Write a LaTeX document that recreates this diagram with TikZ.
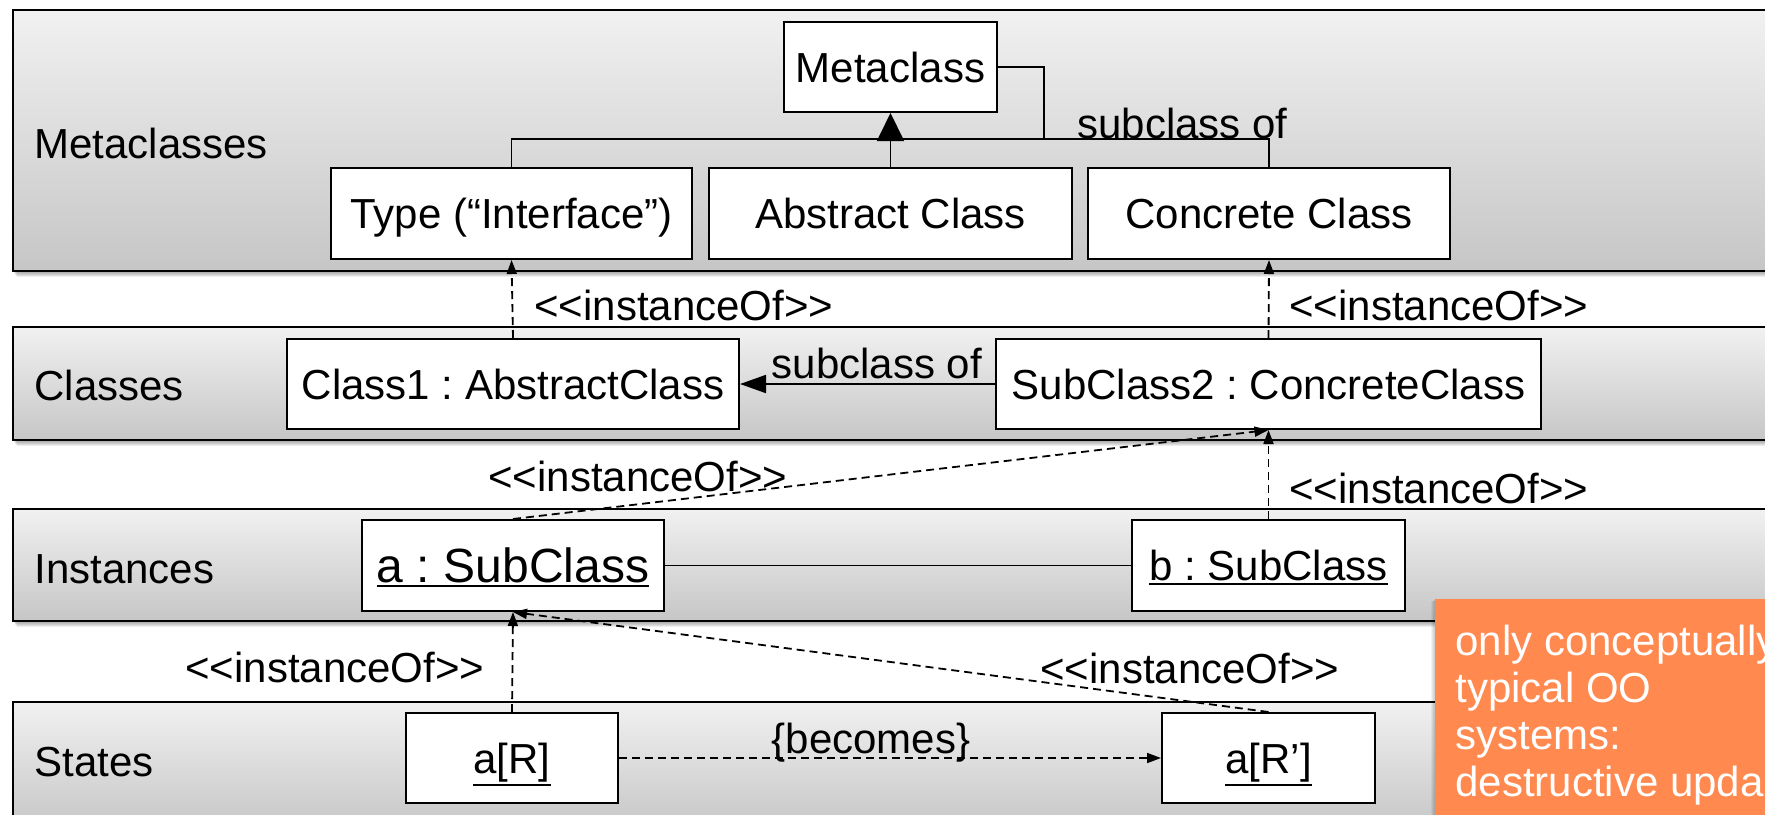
\documentclass[tikz,border=0pt]{standalone}
\usepackage{fontspec}
\setmainfont{Liberation Sans}[Ligatures=TeXOff]
\usetikzlibrary{arrows.meta}
\definecolor{bandtop}{HTML}{F1F1F1}
\definecolor{bandbot}{HTML}{C6C6C6}
\definecolor{notefill}{RGB}{255,137,79}
\frenchspacing
% thick underline for object names
\newcommand\objname[1]{\leavevmode\vtop{\hbox{#1}\kern1pt\hrule height 1.25pt}}
% soft shadow under a layer band
\newcommand\bandshadow[2]{%
  \foreach \k in {1,...,6}{\fill[black,opacity=0.07] (13+\k*0.6,#1+\k) rectangle (1800,#2+\k);}}
\begin{document}
\begin{tikzpicture}[x=0.5pt,y=-0.5pt,
  every node/.style={font=\fontsize{21}{25}\selectfont},
  umlbox/.style={draw=black,fill=white,line width=1pt,inner sep=0pt,text height=15pt,text depth=0pt},
  band/.style={draw=black,line width=1.2pt,top color=bandtop,bottom color=bandbot},
  conn/.style={draw=black,line width=0.9pt},
  inst/.style={conn,dash pattern=on 4pt off 2.5pt,-{Triangle[length=7pt,width=5pt]}},
  lbl/.style={inner sep=0pt,anchor=base west}]
\useasboundingbox (0,0) rectangle (1765,814);
\clip (0,0) rectangle (1765,814);

% layer bands
\bandshadow{10}{271}
\path[band] (13,10) rectangle (1800,271);
\bandshadow{327}{440}
\path[band] (13,327) rectangle (1800,440);
\bandshadow{509}{621}
\path[band] (13,509) rectangle (1800,621);
\bandshadow{702}{830}
\path[band] (13,702) rectangle (1800,830);

% band titles
\node[lbl] (tmeta) at (34,158) {Metaclasses};
\node[lbl] (tclass) at (34,400) {Classes};
\node[lbl] (tinst) at (34,583) {Instances};
\node[lbl] (tstate) at (34,776) {States};

% metaclass layer
\node[umlbox,minimum width=106.5pt,minimum height=45pt] (meta) at (890.5,67) {Metaclass};
\node[umlbox,minimum width=180.5pt,minimum height=45.5pt] (type) at (511.5,213.5) {Type (“Interface”)};
\node[umlbox,minimum width=181.5pt,minimum height=45.5pt] (abs) at (890.5,213.5) {Abstract Class};
\node[umlbox,minimum width=181pt,minimum height=45.5pt] (conc) at (1269,213.5) {Concrete Class};

% class layer
\node[umlbox,minimum width=226pt,minimum height=45pt] (class1) at (513,384) {Class1 : AbstractClass};
\node[umlbox,minimum width=272.5pt,minimum height=45pt] (sub2) at (1268.5,384) {SubClass2 : ConcreteClass};

% instance layer
\node[umlbox,minimum width=151pt,minimum height=45.5pt,font=\fontsize{24}{28}\selectfont,text height=17pt] (asub) at (513,565.5) {\objname{a : SubClass}};
\node[umlbox,minimum width=136.5pt,minimum height=45.5pt] (bsub) at (1268.5,565.5) {\objname{b : SubClass}};

% state layer
\node[umlbox,minimum width=106pt,minimum height=45pt] (ar) at (512,758) {\objname{a[R]}};
\node[umlbox,minimum width=106.5pt,minimum height=45pt] (ar2) at (1268.5,758) {\objname{a[R’]}};

% generalisation tree among the metaclasses
\coordinate (mjoin) at (1044,140);
\draw[conn] (type.north) -- ++(0,-28) -| (conc.north);
\draw[conn] (meta.east) -| (mjoin);
\draw[conn,-{Triangle[length=14pt,width=13.5pt]}] (abs.north) -- (meta.south);
\node[lbl] (lsub1) at (1077,138) {subclass of};

% subclass relation among the classes
\draw[conn,-{Triangle[length=13pt,width=9pt]}] (sub2.west) -- (class1.east);
\node[inner sep=0pt,anchor=base] (lsub2) at (877,378) {subclass of};

% association between the instances
\draw[conn] (asub.east) -- (bsub.west);

% instance-of relations
\draw[inst] (class1.north) -- (type.south);
\draw[inst] (sub2.north) -- (conc.south);
\draw[inst] (asub.north) -- (sub2.south);
\draw[inst] (bsub.north) -- (sub2.south);
\draw[inst] (ar.north) -- (asub.south);
\draw[inst] (ar2.north) -- (asub.south);
\draw[inst] (ar.east) -- (ar2.west);

\node[lbl] (li1) at (534,320) {<<instanceOf>>};
\node[lbl] (li2) at (1289,320) {<<instanceOf>>};
\node[lbl] (li3) at (488,491) {<<instanceOf>>};
\node[lbl] (li4) at (1289,503) {<<instanceOf>>};
\node[lbl] (li5) at (185,682) {<<instanceOf>>};
\node[lbl] (li6) at (1040,683) {<<instanceOf>>};
\node[inner sep=0pt,anchor=base] (lbec) at (871,753) {\{becomes\}};

% remark box
\foreach \k in {1,...,4}{\fill[black,opacity=0.05] (1435-\k,599+\k*0.5) rectangle (1800,830);}
\fill[notefill] (1435,599) rectangle (1800,830);
\node[inner sep=0pt,anchor=north west,align=left,text=white,font=\fontsize{21}{23.5}\selectfont] (note) at (1455,625)
  {only conceptually\\typical OO\\systems:\\destructive upda};
\end{tikzpicture}
\end{document}
